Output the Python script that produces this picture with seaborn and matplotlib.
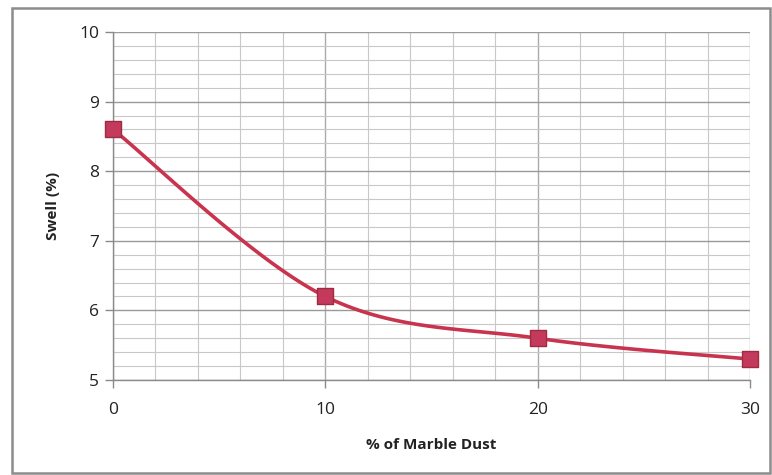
import numpy as np
import pandas as pd
import matplotlib
matplotlib.use("Agg")
import matplotlib.pyplot as plt
import seaborn as sns
from matplotlib.patches import Rectangle
from matplotlib.ticker import MultipleLocator

marble_dust = [0, 10, 20, 30]
swell = [8.6, 6.2, 5.6, 5.3]
x_ticks = [0, 10, 20, 30]
y_ticks = [5, 6, 7, 8, 9, 10]

sns.set_theme(style="white")
plt.rcParams['font.family'] = ['Open Sans', 'DejaVu Sans']

df = pd.DataFrame({"dust": marble_dust, "swell": swell})

def smooth(xs, ys, n=40):
    # Excel-style smoothed line (Catmull-Rom Bezier through the data points)
    xs = np.asarray(xs, float); ys = np.asarray(ys, float)
    P = np.column_stack([xs, ys])
    out = []
    for i in range(len(P) - 1):
        p0 = P[i - 1] if i > 0 else P[i]
        p1, p2 = P[i], P[i + 1]
        p3 = P[i + 2] if i + 2 < len(P) else P[i + 1]
        c1 = p1 + (p2 - p0) / 6
        c2 = p2 - (p3 - p1) / 6
        t = np.linspace(0, 1, n)[:, None]
        seg = (1 - t) ** 3 * p1 + 3 * (1 - t) ** 2 * t * c1 + 3 * (1 - t) * t ** 2 * c2 + t ** 3 * p2
        out.append(seg if i == 0 else seg[1:])
    s = np.vstack(out)
    return s[:, 0], s[:, 1]

fig = plt.figure(figsize=(7.72, 4.75), dpi=100)
ax = fig.add_axes([0.1464, 0.2, 0.9715 - 0.1464, 0.9326 - 0.2])

sx, sy = smooth(df["dust"], df["swell"])
curve = pd.DataFrame({"dust": sx, "swell": sy})
sns.lineplot(data=curve, x="dust", y="swell", ax=ax, color="#C8344E", lw=2.6, sort=False, zorder=3)
sns.scatterplot(data=df, x="dust", y="swell", ax=ax, marker="s", s=140, color="#C43A5C",
                edgecolor="#A02A40", linewidth=1.0, zorder=4, clip_on=False)

ax.set_xlim(0, 30)
ax.set_ylim(5, 10)
ax.set_xticks(x_ticks)
ax.set_yticks(y_ticks)
ax.xaxis.set_minor_locator(MultipleLocator(2))
ax.yaxis.set_minor_locator(MultipleLocator(0.2))
ax.grid(which="minor", color="#C8C8C8", lw=0.8, zorder=0)
ax.grid(which="major", axis="y", color="#9A9A9A", lw=1.0, zorder=0)
ax.grid(which="major", axis="x", color="#ABABAB", lw=1.0, zorder=0)
ax.set_axisbelow(True)
for s in ["top", "right"]:
    ax.spines[s].set_visible(False)
for s in ["left", "bottom"]:
    ax.spines[s].set_color("#8A8A8A")
    ax.spines[s].set_linewidth(1.0)
ax.tick_params(axis="both", which="major", direction="out", length=6, width=1, color="#8A8A8A",
               labelsize=12.5, labelcolor="#222222", pad=4, left=True, bottom=True)
ax.tick_params(axis="x", which="major", pad=10)
ax.tick_params(which="minor", length=0)

ax.set_xlabel("% of Marble Dust", fontsize=11, fontweight="bold", color="#222222", labelpad=14)
ax.set_ylabel("Swell (%)", fontsize=11, fontweight="bold", color="#222222", labelpad=14)

fig.patches.append(Rectangle((12 / 772, 1 - 473 / 475), (770 - 12) / 772, (473 - 8) / 475,
                             transform=fig.transFigure, fill=False, edgecolor="#8C8C8C", lw=1.8))

fig.savefig("out.png", dpi=100)
